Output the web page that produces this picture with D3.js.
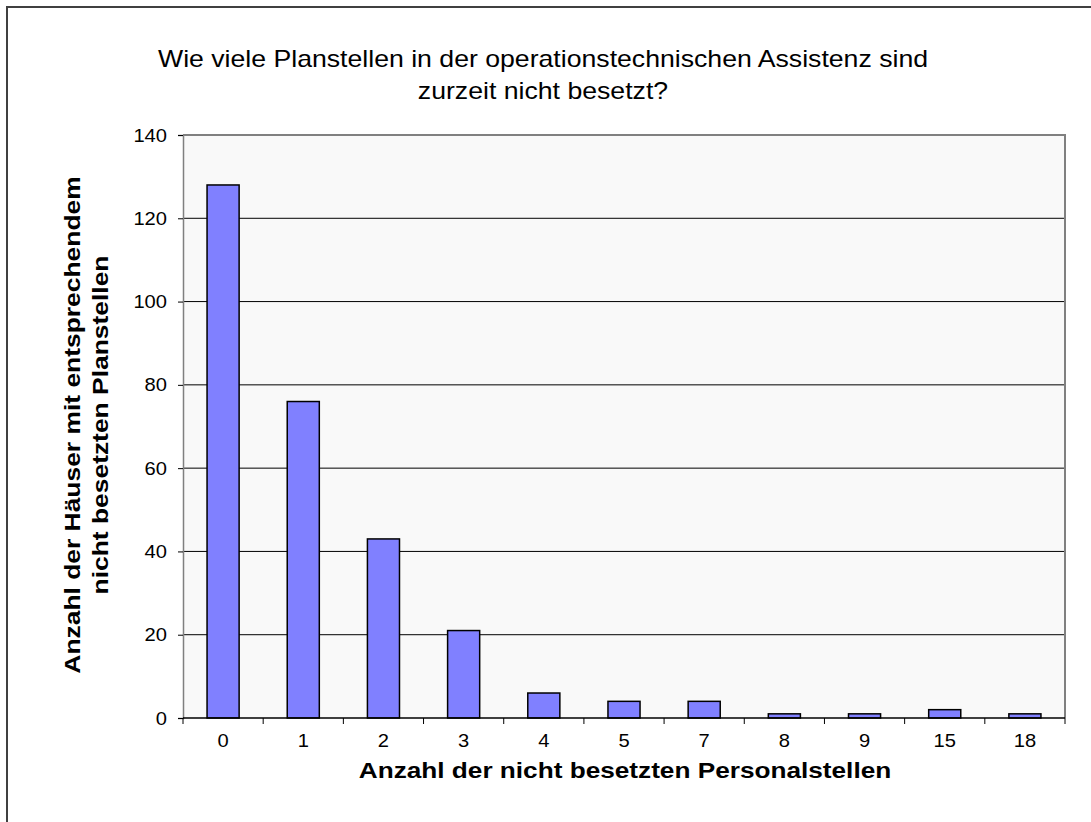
<!DOCTYPE html>
<html>
<head>
<meta charset="utf-8">
<script src="https://cdn.jsdelivr.net/npm/d3@7"></script>
<style>
  body { margin: 0; background: #fff; }
  text { font-family: "Liberation Sans", Arial, sans-serif; fill: #000; }
</style>
</head>
<body>
<div class="js-canvas"></div>
<script>
'use strict';

// categories = number of vacant positions, values = number of houses
const categories = ['0', '1', '2', '3', '4', '5', '7', '8', '9', '15', '18'];
const counts = [128, 76, 43, 21, 6, 4, 4, 1, 1, 2, 1];
const yTicks = [0, 20, 40, 60, 80, 100, 120, 140];

const titleLines = ['Wie viele Planstellen in der operationstechnischen Assistenz sind', 'zurzeit nicht besetzt?'];
const yTitleLines = ['Anzahl der Häuser mit entsprechendem', 'nicht besetzten Planstellen'];
const xTitle = 'Anzahl der nicht besetzten Personalstellen';

const config = {
    width: 1091,
    height: 822,
    plot: { left: 183, top: 135, right: 1065, bottom: 718 },
    font: '"Liberation Sans", Arial, sans-serif'
};

// the original text is a bit wider than Arial, stretch it along its baseline
const stretch = (sel, k) => sel.each(function () {
    const len = this.getComputedTextLength();
    d3.select(this)
        .attr('textLength', len * k)
        .attr('lengthAdjust', 'spacingAndGlyphs');
});

const svg = d3.select('.js-canvas')
    .append('svg')
    .attr('width', config.width)
    .attr('height', config.height);

// outer frame
svg.append('rect')
    .attr('x', 7).attr('y', 7)
    .attr('width', 1100).attr('height', 900)
    .attr('fill', '#fff')
    .attr('stroke', '#404040')
    .attr('stroke-width', 2);

const p = config.plot;

const x = d3.scaleBand()
    .domain(categories)
    .range([p.left, p.right])
    .paddingInner(0.6)
    .paddingOuter(0.3);

const y = d3.scaleLinear()
    .domain([0, 140])
    .range([p.bottom, p.top]);

// plot background
svg.append('rect')
    .attr('x', p.left).attr('y', p.top)
    .attr('width', p.right - p.left).attr('height', p.bottom - p.top)
    .attr('fill', '#f9f9f9');

// gridlines
svg.append('g')
    .selectAll('line')
    .data(yTicks.filter(d => d > 0 && d < 140))
    .join('line')
    .attr('x1', p.left).attr('x2', p.right)
    .attr('y1', d => y(d)).attr('y2', d => y(d))
    .attr('stroke', '#000')
    .attr('stroke-width', 1);

// top and right border
svg.append('path')
    .attr('d', `M${p.left},${p.top}H${p.right}V${p.bottom}`)
    .attr('fill', 'none')
    .attr('stroke', '#808080')
    .attr('stroke-width', 2);

// bars
svg.append('g')
    .selectAll('rect')
    .data(counts)
    .join('rect')
    .attr('x', (d, i) => x(categories[i]))
    .attr('y', d => y(d))
    .attr('width', x.bandwidth())
    .attr('height', d => p.bottom - y(d))
    .attr('fill', '#8080ff')
    .attr('stroke', '#000')
    .attr('stroke-width', 1.5);

// y axis
const yAxis = d3.axisLeft(y).tickValues(yTicks).tickSize(5).tickPadding(11);
const yAxisGroup = svg.append('g')
    .attr('transform', `translate(${p.left},0)`)
    .call(yAxis);
yAxisGroup.select('.domain').attr('stroke', '#808080').attr('stroke-width', 1.5);
yAxisGroup.selectAll('text')
    .attr('font-size', 19)
    .style('font-family', config.font)
    .call(stretch, 1.06);

// x axis: ticks sit on the band boundaries
const step = (p.right - p.left) / categories.length;
const xAxisGroup = svg.append('g');
xAxisGroup.append('line')
    .attr('x1', p.left).attr('x2', p.right)
    .attr('y1', p.bottom).attr('y2', p.bottom)
    .attr('stroke', '#000').attr('stroke-width', 1.5);
xAxisGroup.selectAll('.tick-mark')
    .data(d3.range(categories.length + 1))
    .join('line')
    .attr('class', 'tick-mark')
    .attr('x1', i => p.left + i * step).attr('x2', i => p.left + i * step)
    .attr('y1', p.bottom).attr('y2', p.bottom + 6)
    .attr('stroke', '#000');
xAxisGroup.selectAll('.tick-label')
    .data(categories)
    .join('text')
    .attr('class', 'tick-label')
    .attr('x', d => x(d) + x.bandwidth() / 2)
    .attr('y', p.bottom + 29)
    .attr('text-anchor', 'middle')
    .attr('font-size', 19)
    .text(d => d)
    .call(stretch, 1.06);

// title
svg.append('g')
    .selectAll('text')
    .data(titleLines)
    .join('text')
    .attr('x', 543)
    .attr('y', (d, i) => 67 + i * 32)
    .attr('text-anchor', 'middle')
    .attr('font-size', 24)
    .text(d => d)
    .call(stretch, 1.11);

// y axis title
svg.append('g')
    .attr('transform', 'translate(0,425) rotate(-90)')
    .selectAll('text')
    .data(yTitleLines)
    .join('text')
    .attr('x', 0)
    .attr('y', (d, i) => 80 + i * 28)
    .attr('text-anchor', 'middle')
    .attr('font-size', 22)
    .attr('font-weight', 'bold')
    .text(d => d)
    .call(stretch, 1.2);

// x axis title
svg.append('text')
    .attr('x', 625)
    .attr('y', 778)
    .attr('text-anchor', 'middle')
    .attr('font-size', 22)
    .attr('font-weight', 'bold')
    .text(xTitle)
    .call(stretch, 1.19);
</script>
</body>
</html>
